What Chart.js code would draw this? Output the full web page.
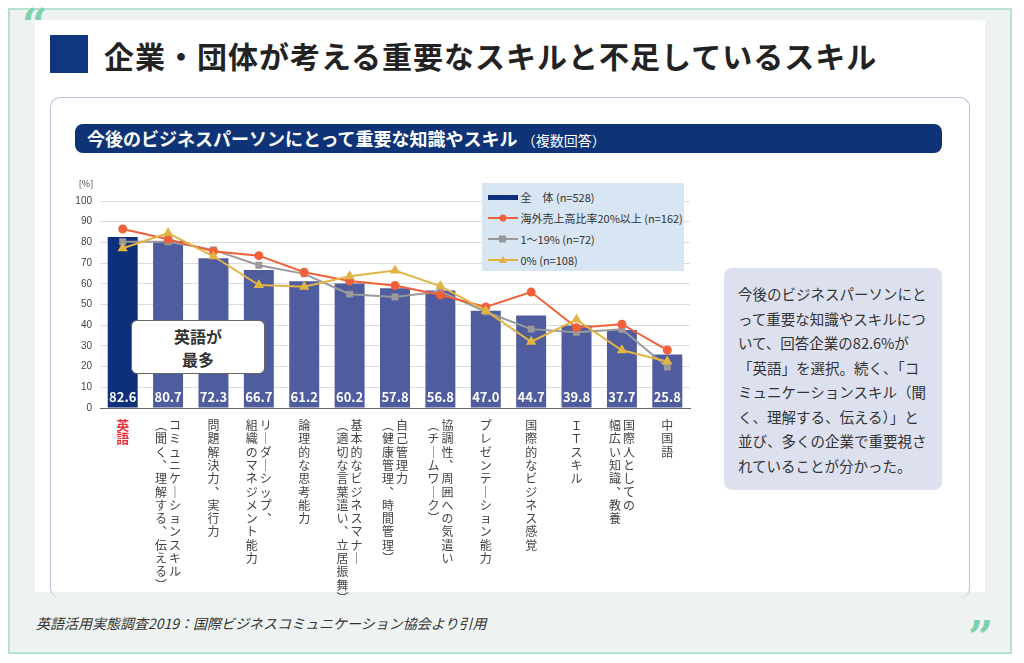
<!DOCTYPE html>
<html><head><meta charset="utf-8">
<script src="https://cdn.jsdelivr.net/npm/chart.js@4"></script>
<style>
body{margin:0;width:1024px;height:663px;background:#fff;font-family:"Noto Sans CJK JP",sans-serif;position:relative;overflow:hidden}
.frame{position:absolute;left:8px;top:8px;width:1004px;height:646px;border:2px solid #b6e3cf;background:#eef3f1;box-sizing:border-box}
.inner{position:absolute;left:35px;top:20px;width:950px;height:572px;background:#fff}
.q{position:absolute;color:#7fd0b0;font:bold 44px "DejaVu Serif",serif}
.sq{position:absolute;left:50px;top:35px;width:38px;height:38px;background:#10377d}
.title{position:absolute;left:104px;top:33px;font-size:30px;font-weight:bold;color:#222;letter-spacing:1px}
.panel{position:absolute;left:50px;top:97px;width:918px;height:500px;border:1.5px solid #b8c2d8;border-radius:10px;border-bottom:none}
.bar{position:absolute;left:75px;top:124px;width:867px;height:29px;background:#0e3377;border-radius:8px;color:#fff;font-size:18px;font-weight:bold;line-height:29px;padding-left:12px;box-sizing:border-box}
.bar small{font-size:14px;font-weight:normal}
.note{position:absolute;left:724px;top:268px;width:218px;height:222px;background:#dde1ef;border-radius:8px;padding:14px 14px;box-sizing:border-box;font-size:14.5px;line-height:24.5px;color:#333}
.legend{position:absolute;left:482px;top:183px;width:202px;height:88px;background:#d8e5f2;font-size:11px;color:#333}
.legend div{position:absolute;left:6px;height:16px;line-height:16px;white-space:nowrap}
.callout{position:absolute;left:131px;top:320px;width:134px;height:54px;background:#fff;border:1.5px solid #666;border-radius:6px;text-align:center;font-size:16px;font-weight:bold;line-height:23px;padding-top:4px;box-sizing:border-box;color:#333}
.cite{position:absolute;left:36px;top:613px;font-size:14px;font-style:italic;color:#333}
#wrap{position:absolute;left:60px;top:170px;width:640px;height:430px}
</style></head><body>
<div class="frame"></div>
<div class="inner"></div>
<div class="q" style="left:22px;top:0px">“</div>
<div class="q" style="left:968px;top:612px">”</div>
<div class="sq"></div>
<div class="title">企業・団体が考える重要なスキルと不足しているスキル</div>
<div class="panel"></div>
<div class="bar">今後のビジネスパーソンにとって重要な知識やスキル <small>（複数回答）</small></div>
<div id="wrap"><canvas id="c"></canvas></div>
<div class="legend">
 <div style="top:6px"><svg width="30" height="10"><rect x="0" y="3" width="30" height="5" fill="#0e2f7a"/></svg> 全　体 (n=528)</div>
 <div style="top:27px"><svg width="30" height="10"><line x1="0" y1="5" x2="30" y2="5" stroke="#f0603a" stroke-width="2"/><circle cx="15" cy="5" r="3.5" fill="#f0603a"/></svg> 海外売上高比率20%以上 (n=162)</div>
 <div style="top:48px"><svg width="30" height="10"><line x1="0" y1="5" x2="30" y2="5" stroke="#999" stroke-width="2"/><rect x="11" y="1.5" width="7" height="7" fill="#999"/></svg> 1～19% (n=72)</div>
 <div style="top:69px"><svg width="30" height="10"><line x1="0" y1="5" x2="30" y2="5" stroke="#e0b040" stroke-width="2"/><polygon points="15,1 19,8 11,8" fill="#e0b040"/></svg> 0% (n=108)</div>
</div>
<div class="callout">英語が<br>最多</div>
<div class="note">今後のビジネスパーソンにとって重要な知識やスキルについて、回答企業の82.6%が「英語」を選択。続く、「コミュニケーションスキル（聞く、理解する、伝える）」と並び、多くの企業で重要視されていることが分かった。</div>
<div class="cite">英語活用実態調査2019：国際ビジネスコミュニケーション協会より引用</div>
<script>
const categories = [
  ["英語"], ["コミュニケーションスキル", "(聞く、理解する、伝える)"], ["問題解決力、実行力"],
  ["リーダーシップ、", "組織のマネジメント能力"], ["論理的な思考能力"],
  ["基本的なビジネスマナー", "(適切な言葉遣い、立居振舞)"], ["自己管理力", "(健康管理、時間管理)"],
  ["協調性、周囲への気遣い", "(チームワーク)"], ["プレゼンテーション能力"], ["国際的なビジネス感覚"],
  ["ＩＴスキル"], ["国際人としての", "幅広い知識、教養"], ["中国語"]
];
const totalValues = [82.6, 80.7, 72.3, 66.7, 61.2, 60.2, 57.8, 56.8, 47.0, 44.7, 39.8, 37.7, 25.8];
const overseas20Values = [86.5, 81.5, 75.7, 73.6, 65.6, 61.4, 59.2, 54.6, 48.8, 56.0, 38.8, 40.5, 28.0];
const overseas1to19Values = [80.3, 80.3, 76.4, 69.0, 64.8, 55.0, 53.6, 56.3, 46.5, 38.1, 36.6, 38.0, 19.8];
const overseas0Values = [77.2, 84.5, 73.3, 59.4, 58.6, 63.6, 66.4, 58.9, 47.0, 32.0, 42.7, 27.9, 22.5];
const yTicks = [0, 10, 20, 30, 40, 50, 60, 70, 80, 90, 100];

const VERT = { "ー": "｜", "(": "︵", ")": "︶", "、": "︑" };

const labelsPlugin = {
  id: "labels",
  afterDraw(chart) {
    const ctx = chart.ctx, x = chart.scales.x, y = chart.scales.y;
    ctx.save();
    // y unit
    ctx.fillStyle = "#444"; ctx.font = "9px 'Noto Sans CJK JP'"; ctx.textAlign = "center";
    ctx.fillText("[%]", x.left - 14, y.top - 14);
    // bar values
    ctx.font = "bold 13px 'Noto Sans CJK JP'"; ctx.fillStyle = "#fff";
    totalValues.forEach((v, i) => ctx.fillText(v.toFixed(1), x.getPixelForValue(i), y.bottom - 6));
    // vertical category labels
    ctx.font = "12px 'Noto Sans CJK JP'";
    categories.forEach((lines, i) => {
      const cx = x.getPixelForValue(i);
      const n = lines.length;
      lines.forEach((line, j) => {
        const lx = cx + (n - 1) * 7 - j * 14 + (n === 1 ? 0 : 0);
        ctx.fillStyle = i === 0 ? "#e8323c" : "#444";
        if (i === 0) ctx.font = "bold 13px 'Noto Sans CJK JP'"; else ctx.font = "12px 'Noto Sans CJK JP'";
        [...line].forEach((ch, k) => {
          ctx.fillText(VERT[ch] || ch, lx, y.bottom + 22 + k * 13.3);
        });
      });
    });
    ctx.restore();
  }
};

new Chart(document.getElementById("c"), {
  data: {
    labels: categories.map((c) => c.join(" ")),
    datasets: [
      { type: "line", label: "海外売上高比率20%以上", data: overseas20Values, borderColor: "#f0603a", backgroundColor: "#f0603a", borderWidth: 2, pointRadius: 3.5, pointStyle: "circle", order: 1 },
      { type: "line", label: "1～19%", data: overseas1to19Values, borderColor: "#9a9a9a", backgroundColor: "#9a9a9a", borderWidth: 2, pointRadius: 3.5, pointStyle: "rect", order: 2 },
      { type: "line", label: "0%", data: overseas0Values, borderColor: "#e2b445", backgroundColor: "#e2b445", borderWidth: 2, pointRadius: 4, pointStyle: "triangle", order: 0 },
      { type: "bar", label: "全体", data: totalValues, backgroundColor: totalValues.map((v, i) => i === 0 ? "#0e2f7a" : "#4f5c9e"), barPercentage: 0.66, categoryPercentage: 1, order: 5 },
    ],
  },
  options: {
    responsive: true, maintainAspectRatio: false, animation: false,
    layout: { padding: { top: 31, bottom: 184, right: 10, left: 0 } },
    plugins: { legend: { display: false }, tooltip: { enabled: false } },
    scales: {
      x: { ticks: { display: false }, grid: { display: false }, border: { color: "#666" } },
      y: {
        min: 0, max: 100,
        afterBuildTicks: (s) => { s.ticks = yTicks.map((v) => ({ value: v })); },
        afterFit: (s) => { s.width = 40; },
        ticks: { color: "#444", font: { size: 10 }, padding: 8 },
        grid: { color: "#dcdcdc", drawTicks: false },
        border: { display: false },
      },
    },
  },
  plugins: [labelsPlugin],
});
</script>
</body></html>
